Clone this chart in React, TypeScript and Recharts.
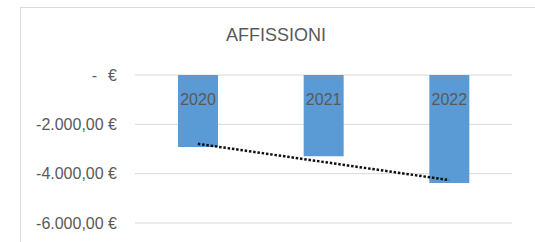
import { ComposedChart, Bar, Line, XAxis, YAxis, CartesianGrid, LabelList } from 'recharts';

const years = ['2020', '2021', '2022'];
const amounts = [-2920, -3290, -4380];
// linear trendline as drawn in the sheet
const trendValues = [-2790, -3525, -4260];
const yTicks = [0, -2000, -4000, -6000];

const data = years.map((year, i) => ({ year, amount: amounts[i], trend: trendValues[i] }));

const FONT = '"Liberation Sans", Arial, sans-serif';
const GREY = '#595959';

function euro(v: number) {
  const abs = Math.abs(v);
  const int = Math.floor(abs).toString().replace(/\B(?=(\d{3})+(?!\d))/g, '.');
  return (v < 0 ? '-' : '') + int + ',00 €';
}

function YTick({ y, payload }: any) {
  const v = payload.value;
  if (v === 0) {
    return (
      <g>
        <text x={97} y={y} dy="0.36em" textAnchor="end" fill={GREY} fontSize={16} fontFamily={FONT}>-</text>
        <text x={117} y={y} dy="0.36em" textAnchor="end" fill={GREY} fontSize={16} fontFamily={FONT}>€</text>
      </g>
    );
  }
  return (
    <text x={117} y={y} dy="0.36em" textAnchor="end" fill={GREY} fontSize={16} fontFamily={FONT}>
      {euro(v)}
    </text>
  );
}

function YearLabel({ x, y, width, height, value }: any) {
  const top = Math.min(y, y + height);
  return (
    <text x={x + width / 2} y={top + 30} textAnchor="middle" fill={GREY} fontSize={16} fontFamily={FONT}>
      {value}
    </text>
  );
}

export default function App() {
  return (
    <div style={{ position: 'absolute', left: 0, top: 0, width: 535, height: 242, overflow: 'hidden', background: '#fff' }}>
      <div style={{ position: 'absolute', left: 20, top: 7, width: 600, height: 300, border: '1px solid #d9d9d9' }} />
      <div
        style={{
          position: 'absolute',
          left: 176,
          width: 200,
          top: 25,
          textAlign: 'center',
          fontFamily: FONT,
          fontSize: 18,
          color: GREY,
        }}
      >
        AFFISSIONI
      </div>
      <div style={{ position: 'absolute', left: 0, top: 0 }}>
        <ComposedChart width={535} height={242} data={data} margin={{ top: 75, right: 23, bottom: 19, left: 0 }}>
          <CartesianGrid vertical={false} stroke="#d9d9d9" />
          <XAxis dataKey="year" hide />
          <YAxis
            width={135}
            domain={[-6000, 0]}
            ticks={yTicks}
            axisLine={false}
            tickLine={false}
            tick={<YTick />}
          />
          <Bar dataKey="amount" fill="#5b9bd5" barSize={40} isAnimationActive={false}>
            <LabelList dataKey="year" content={<YearLabel />} />
          </Bar>
          <Line
            dataKey="trend"
            stroke="#111"
            strokeWidth={2.5}
            strokeDasharray="2.5 1.8"
            dot={false}
            activeDot={false}
            isAnimationActive={false}
          />
        </ComposedChart>
      </div>
    </div>
  );
}
